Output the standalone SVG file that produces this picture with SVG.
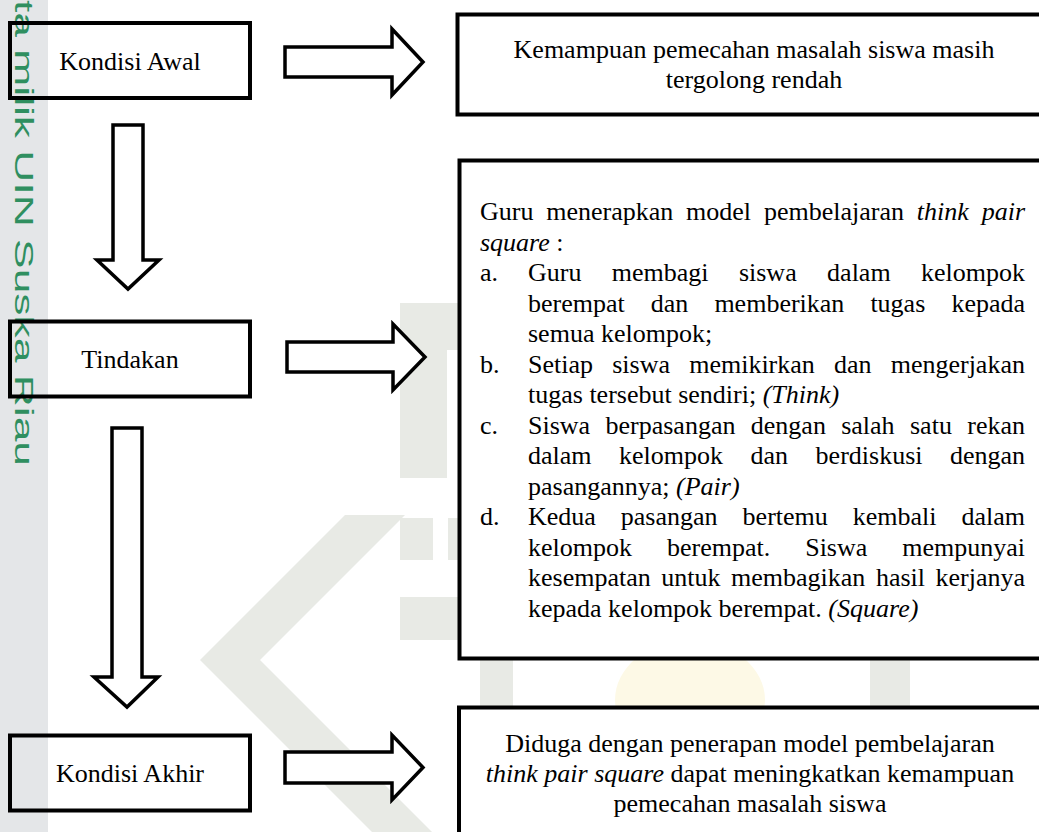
<svg xmlns="http://www.w3.org/2000/svg" width="1039" height="832" viewBox="0 0 1039 832">
<style>
.box{fill:none;stroke:#000;stroke-width:4}
.rbox{fill:#fff;stroke:#000;stroke-width:4}
.arr{fill:#fff;stroke:#000;stroke-width:3.5;stroke-linejoin:miter}
.t{font-family:"Liberation Serif","Times New Roman",serif;font-size:26px;fill:#000}
.i{font-style:italic}
.wm{fill:#e8eae5}
</style>
<rect width="1039" height="832" fill="#fff"/>
<g id="watermark">
<rect x="0" y="0" width="48" height="832" fill="#e4e6e8"/>
<text transform="translate(15,0) rotate(90)" textLength="466" lengthAdjust="spacingAndGlyphs" font-family="Liberation Sans, Arial, sans-serif" font-size="25" fill="#2f8f60">ta milik UIN Suska Riau</text>
<polygon class="wm" points="345,515 200,660 372,832 432,832 260,660 405,515"/>
<rect class="wm" x="400" y="303" width="47" height="175"/>
<rect class="wm" x="447" y="303" width="12" height="47"/>
<rect class="wm" x="400" y="518" width="33" height="42"/>
<rect class="wm" x="448" y="518" width="12" height="42"/>
<rect class="wm" x="400" y="597" width="60" height="43"/>
<rect class="wm" x="480" y="658" width="33" height="50"/>
<rect class="wm" x="870" y="658" width="40" height="50"/>
<ellipse cx="690" cy="700" rx="75" ry="60" fill="#fdf9e6"/>
</g>
<g id="connectors">
<path class="arr" d="M285,47 H392 V29 L423,62 L392,95 V77 H285 Z"/>
<path class="arr" d="M287,342 H393 V324 L425,357 L393,390 V372 H287 Z"/>
<path class="arr" d="M285,752 H392 V735 L423,767.5 L392,800 V783 H285 Z"/>
<path class="arr" d="M113,125 V260 H97 L128,289 L159,260 H143 V125 Z"/>
<path class="arr" d="M112,428 V677 H94 L127,707 L158,677 H142 V428 Z"/>
</g>
<g id="kondisi-awal">
<rect class="box" x="10" y="23" width="240" height="75"/>
<text class="t" x="130" y="70" text-anchor="middle">Kondisi Awal</text>
</g>
<g id="tindakan">
<rect class="box" x="10" y="321.5" width="240" height="75"/>
<text class="t" x="130" y="367.5" text-anchor="middle">Tindakan</text>
</g>
<g id="kondisi-akhir">
<rect class="box" x="10" y="735.5" width="240" height="75"/>
<text class="t" x="130" y="782" text-anchor="middle">Kondisi Akhir</text>
</g>
<g id="masalah">
<rect class="rbox" x="457.5" y="14.5" width="600" height="100"/>
<text class="t" x="754" y="58" text-anchor="middle">Kemampuan pemecahan masalah siswa masih</text>
<text class="t" x="754" y="88" text-anchor="middle">tergolong rendah</text>
</g>
<g id="tindakan-detail">
<rect class="rbox" x="459.5" y="160.5" width="600" height="498"/>
<text class="t" y="220"><tspan x="480">Guru</tspan><tspan x="546.3">menerapkan</tspan><tspan x="686.1">model</tspan><tspan x="764">pembelajaran</tspan><tspan class="i" x="916.8">think</tspan><tspan class="i" x="981.7">pair</tspan></text>
<text class="t" x="480" y="250.5"><tspan class="i">square</tspan> :</text>
<text class="t" y="281"><tspan x="480">a.</tspan><tspan x="528">Guru</tspan><tspan x="611.8">membagi</tspan><tspan x="738.9">siswa</tspan><tspan x="827.1">dalam</tspan><tspan x="921">kelompok</tspan></text>
<text class="t" y="311.5"><tspan x="528">berempat</tspan><tspan x="650.8">dan</tspan><tspan x="714.4">memberikan</tspan><tspan x="870.4">tugas</tspan><tspan x="951.4">kepada</tspan></text>
<text class="t" x="528" y="342">semua kelompok;</text>
<text class="t" y="372.5"><tspan x="480">b.</tspan><tspan x="528">Setiap</tspan><tspan x="612.2">siswa</tspan><tspan x="689.2">memikirkan</tspan><tspan x="834">dan</tspan><tspan x="890.7">mengerjakan</tspan></text>
<text class="t" x="528" y="403">tugas tersebut sendiri; <tspan class="i">(Think)</tspan></text>
<text class="t" y="433.5"><tspan x="480">c.</tspan><tspan x="528">Siswa</tspan><tspan x="605.5">berpasangan</tspan><tspan x="750.8">dengan</tspan><tspan x="841.2">salah</tspan><tspan x="910">satu</tspan><tspan x="967.3">rekan</tspan></text>
<text class="t" y="464"><tspan x="528">dalam</tspan><tspan x="619">kelompok</tspan><tspan x="750.5">dan</tspan><tspan x="815.6">berdiskusi</tspan><tspan x="949.9">dengan</tspan></text>
<text class="t" x="528" y="494.5">pasangannya; <tspan class="i">(Pair)</tspan></text>
<text class="t" y="525"><tspan x="480">d.</tspan><tspan x="528">Kedua</tspan><tspan x="620.8">pasangan</tspan><tspan x="742.6">bertemu</tspan><tspan x="852.7">kembali</tspan><tspan x="961.5">dalam</tspan></text>
<text class="t" y="555.5"><tspan x="528">kelompok</tspan><tspan x="667">berempat.</tspan><tspan x="805.2">Siswa</tspan><tspan x="902.2">mempunyai</tspan></text>
<text class="t" y="586"><tspan x="528">kesempatan</tspan><tspan x="661.3">untuk</tspan><tspan x="731">membagikan</tspan><tspan x="875.9">hasil</tspan><tspan x="935.5">kerjanya</tspan></text>
<text class="t" x="528" y="616.5">kepada kelompok berempat. <tspan class="i">(Square)</tspan></text>
</g>
<g id="hipotesis">
<rect class="rbox" x="459" y="707.5" width="600" height="140"/>
<text class="t" x="750" y="752" text-anchor="middle">Diduga dengan penerapan model pembelajaran</text>
<text class="t" x="750" y="782" text-anchor="middle"><tspan class="i">think pair square</tspan> dapat meningkatkan kemampuan</text>
<text class="t" x="750" y="812" text-anchor="middle">pemecahan masalah siswa</text>
</g>
</svg>
